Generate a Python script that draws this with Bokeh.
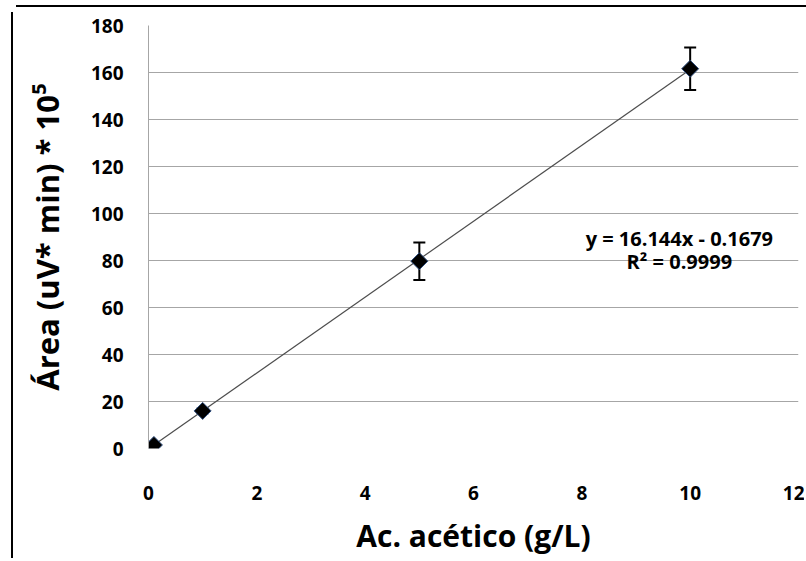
import math
from bokeh.plotting import figure
from bokeh.models import Range1d, FixedTicker, Whisker, ColumnDataSource, Label, Div
from bokeh.layouts import column
from bokeh.embed import file_html
from bokeh.resources import INLINE

# data
conc = [0.1, 1, 5, 10]
area = [1.5, 16.0, 79.7, 161.6]
err = [0.5, 1.0, 8.0, 9.0]
slope = 16.144
intercept = -0.1679
eq_text = "y = 16.144x - 0.1679"
r2_text = "R² = 0.9999"
x_ticks = [0, 2, 4, 6, 8, 10, 12]
y_ticks = [0, 20, 40, 60, 80, 100, 120, 140, 160, 180]

FONT = "Open Sans"
W, H = 793, 546

p = figure(width=W, height=H, output_backend="svg", toolbar_location=None,
           x_range=Range1d(0, 12), y_range=Range1d(0, 180),
           min_border_left=135, min_border_right=8, min_border_top=13, min_border_bottom=103)
p.styles = {"border-left": "2px solid black"}
p.outline_line_color = None
p.background_fill_color = "white"
p.border_fill_color = "white"

p.xgrid.grid_line_color = None
p.ygrid.grid_line_color = "#a6a6a6"
p.ygrid.grid_line_width = 1

p.xaxis.ticker = FixedTicker(ticks=x_ticks)
p.yaxis.ticker = FixedTicker(ticks=y_ticks)
for ax in (p.xaxis, p.yaxis):
    ax.major_label_text_font = FONT
    ax.major_label_text_font_style = "bold"
    ax.major_label_text_font_size = "19px"
    ax.major_label_text_color = "black"
    ax.axis_label_text_font = FONT
    ax.axis_label_text_font_style = "bold"
    ax.axis_label_text_color = "black"
    ax.major_tick_line_color = None
    ax.minor_tick_line_color = None
    ax.major_tick_out = 0
    ax.major_tick_in = 0

p.xaxis.axis_line_color = None
p.xaxis.major_label_standoff = 37
p.xaxis.axis_label = "Ac. acético (g/L)"
p.xaxis.axis_label_standoff = 12
p.xaxis.axis_label_text_font_size = "30px"

p.yaxis.axis_line_color = "#a6a6a6"
p.yaxis.major_label_standoff = 25
p.yaxis.axis_label = "Área (uV* min) * 10⁵"
p.yaxis.axis_label_standoff = 20
p.yaxis.axis_label_text_font_size = "31px"

# trendline over the data range
tx = [min(conc), max(conc)]
ty = [slope * v + intercept for v in tx]
p.line(tx, ty, line_color="#4d4d4d", line_width=1.2)

src = ColumnDataSource(dict(x=conc, y=area,
                            upper=[a + e for a, e in zip(area, err)],
                            lower=[a - e for a, e in zip(area, err)]))
w = Whisker(source=src, base="x", upper="upper", lower="lower",
            line_color="black", line_width=2)
for h in (w.upper_head, w.lower_head):
    h.size = 12
    h.line_width = 2
    h.line_color = "black"
p.add_layout(w)

p.scatter("x", "y", source=src, marker="square", angle=math.pi / 4, size=12,
          fill_color="black", line_color="#2b4a7a", line_width=1)

p.add_layout(Label(x=9.8, y=89.2, text=eq_text, text_align="center", text_baseline="middle",
                   text_font=FONT, text_font_style="bold", text_font_size="20px",
                   text_color="black"))
p.add_layout(Label(x=9.8, y=79.5, text=r2_text, text_align="center", text_baseline="middle",
                   text_font=FONT, text_font_style="bold", text_font_size="20px",
                   text_color="black"))

top_edge = Div(text="", width=W + 2, height=2,
               styles={"background-color": "black"})
layout = column(top_edge, p, spacing=0,
                styles={"margin-left": "11px", "margin-top": "0px"})

open("out.html", "w").write(file_html(layout, INLINE))
